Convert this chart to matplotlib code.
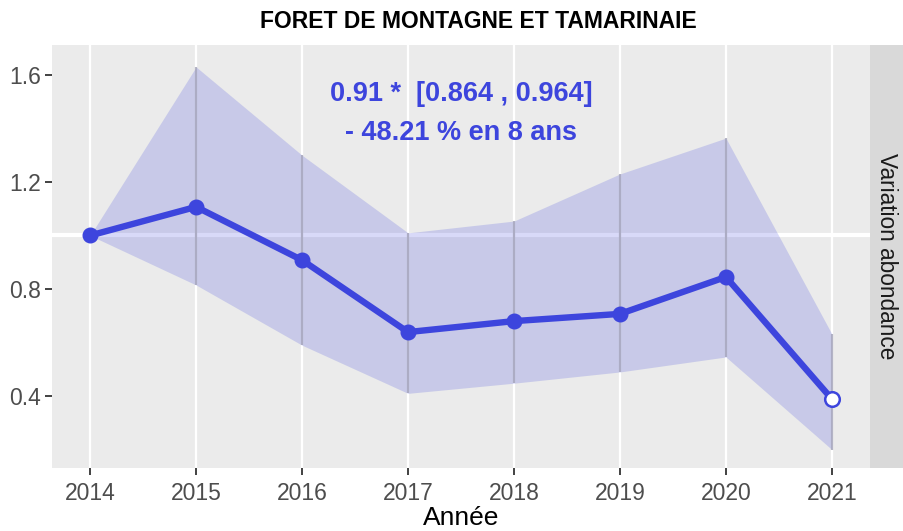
import matplotlib
matplotlib.use("Agg")
import matplotlib.pyplot as plt

# values
annees = [2014, 2015, 2016, 2017, 2018, 2019, 2020, 2021]
abondance = [1.0, 1.107, 0.908, 0.639, 0.68, 0.707, 0.845, 0.389]
ic_haut = [1.0, 1.63, 1.30, 1.01, 1.054, 1.23, 1.364, 0.632]
ic_bas = [1.0, 0.815, 0.59, 0.41, 0.448, 0.49, 0.546, 0.20]
y_ticks = [0.4, 0.8, 1.2, 1.6]

titre = "FORET DE MONTAGNE ET TAMARINAIE"
texte_tendance = "0.91 *  [0.864 , 0.964]\n- 48.21 % en 8 ans"
strip_label = "Variation abondance"

bleu = "#3D45DD"
plt.rcParams["font.family"] = ["Liberation Sans", "DejaVu Sans"]

fig = plt.figure(figsize=(9.04, 5.31), dpi=100)
W, H = 904, 531
px = lambda x0, y0, x1, y1: [x0 / W, 1 - y1 / H, (x1 - x0) / W, (y1 - y0) / H]
ax = fig.add_axes(px(52, 45, 870, 468))
strip = fig.add_axes(px(870, 45, 904, 468))

ax.set_facecolor("#EBEBEB")
for s in ax.spines.values():
    s.set_visible(False)

# vertical grid lines and reference line at 1
for a in annees:
    ax.axvline(a, color="white", lw=1.6, zorder=1)
ax.axhline(1.0, color="white", lw=3, zorder=1)

# confidence ribbon and error segments
ax.fill_between(annees, ic_bas, ic_haut, color=bleu, alpha=0.2, lw=0, zorder=2)
ax.vlines(annees, ic_bas, ic_haut, color="#9A9AAE", alpha=0.7, lw=1.6, zorder=3)

ax.plot(annees, abondance, color=bleu, lw=4.6, zorder=4, solid_capstyle="round")
ax.plot(annees[:-1], abondance[:-1], "o", color=bleu, ms=10.5, zorder=5)
ax.plot(annees[-1:], abondance[-1:], "o", mfc="white", mec=bleu, mew=1.8, ms=10.5, zorder=5)

ax.set_xlim(2013.64, 2021.36)
ax.set_ylim(0.131, 1.712)
ax.set_xticks(annees)
ax.set_yticks(y_ticks)
ax.set_yticklabels([f"{v:.1f}" for v in y_ticks])
ax.tick_params(colors="#333333", labelcolor="#4D4D4D", labelsize=16.5, length=5, width=1.3, pad=3)
ax.tick_params(axis="x", pad=5)
ax.set_xlabel("Année", fontsize=19, color="black", labelpad=1)

fig.text(461 / W, 1 - 113.5 / H, texte_tendance, ha="center", va="center",
         fontsize=19.5, fontweight="bold", color=bleu, linespacing=1.62)
fig.text(478 / W, 1 - 22 / H, titre, ha="center", va="center",
         fontsize=16.5, fontweight="bold", color="black")

strip.set_facecolor("#D9D9D9")
strip.set_xticks([])
strip.set_yticks([])
for s in strip.spines.values():
    s.set_visible(False)
strip.text(0.5, 0.5, strip_label, rotation=-90, ha="center", va="center",
           fontsize=16.3, color="#1A1A1A", transform=strip.transAxes)

fig.savefig("out.png", dpi=100)
